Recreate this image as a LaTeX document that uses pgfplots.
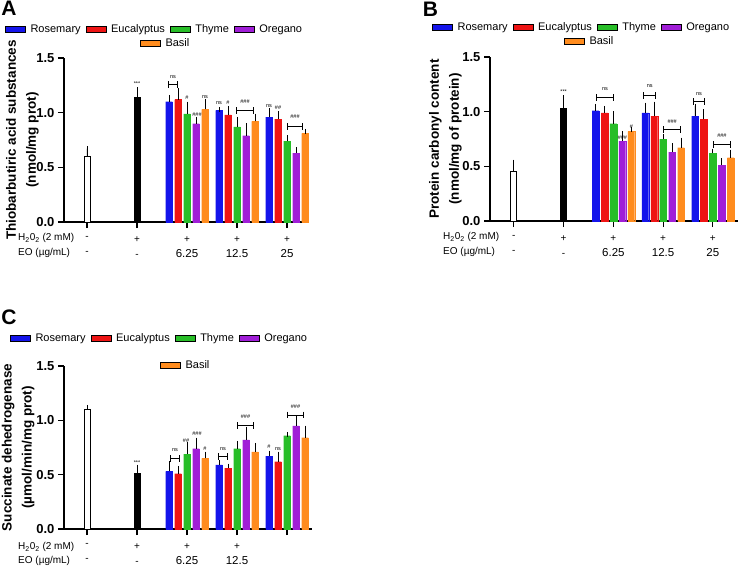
\documentclass[border=0pt]{standalone}
\usepackage{pgfplots}
\pgfplotsset{compat=1.18}
\usepackage{pgfplotstable}
\usepackage{fontspec}
\setmainfont{Liberation Sans}
\definecolor{cblue}{RGB}{20,20,235}
\definecolor{cred}{RGB}{238,20,20}
\definecolor{cgreen}{RGB}{40,190,40}
\definecolor{cpurple}{RGB}{160,30,215}
\definecolor{corange}{RGB}{255,140,30}
\newcommand{\numf}{\fontsize{11.5}{15}\selectfont}

% Panel A
\pgfplotstableread{
x y e
1.64 1.10 0.04
2.64 1.02 0.01
3.64 0.96 0.06
}\Ar
\pgfplotstableread{
x y e
1.82 1.12 0.08
2.82 0.98 0.06
3.82 0.94 0.05
}\Ae
\pgfplotstableread{
x y e
2 0.99 0.09
3 0.87 0.07
4 0.74 0.03
}\At
\pgfplotstableread{
x y e
2.18 0.90 0.04
3.18 0.79 0.09
4.18 0.63 0.03
}\Ao
\pgfplotstableread{
x y e
2.36 1.03 0.07
3.36 0.92 0.05
4.36 0.81 0.02
}\Ab
% Panel B
\pgfplotstableread{
x y e
1.64 1.01 0.04
2.64 0.99 0.07
3.64 0.96 0.09
}\Br
\pgfplotstableread{
x y e
1.82 0.99 0.04
2.82 0.96 0.11
3.82 0.93 0.07
}\Be
\pgfplotstableread{
x y e
2 0.89 0.09
3 0.75 0.02
4 0.62 0.02
}\Bt
\pgfplotstableread{
x y e
2.18 0.73 0.07
3.18 0.63 0.06
4.18 0.51 0.04
}\Bo
\pgfplotstableread{
x y e
2.36 0.82 0.02
3.36 0.67 0.07
4.36 0.58 0.05
}\Bb
% Panel C
\pgfplotstableread{
x y e
1.64 0.53 0.07
2.64 0.59 0.02
3.64 0.67 0.03
}\Cr
\pgfplotstableread{
x y e
1.82 0.51 0.05
2.82 0.56 0.02
3.82 0.62 0.07
}\Ce
\pgfplotstableread{
x y e
2 0.69 0.09
3 0.74 0.05
4 0.86 0.01
}\Ct
\pgfplotstableread{
x y e
2.18 0.74 0.08
3.18 0.82 0.10
4.18 0.95 0.07
}\Co
\pgfplotstableread{
x y e
2.36 0.65 0.04
3.36 0.71 0.06
4.36 0.84 0.09
}\Cb

\pgfplotsset{
  legcommon/.style={
    legend cell align=left, legend columns=4,
    legend style={draw=none, fill=none, inner sep=0pt, column sep=3pt,
      font=\fontsize{11}{13}\selectfont, anchor=west},
    legend image code/.code={\fill[##1] (0pt,-3pt) rectangle (20pt,3pt);}},
  panel/.style={legcommon, scale only axis, anchor=south west,
    axis lines=left, axis line style={-, line width=1.6pt},
    ymin=0, ymax=1.5, ytick={0,0.5,1,1.5}, xtick={0,1,2,3,4},
    tick align=outside, major tick length=6pt,
    tick style={line width=1.2pt, black},
    yticklabel style={font=\bfseries\fontsize{13}{15}\selectfont,
      /pgf/number format/.cd, fixed, fixed zerofill, precision=1, assume math mode=true},
    xticklabel style={align=center, font=\fontsize{10}{15}\selectfont, yshift=-5pt},
    every axis y label/.style={rotate=90, anchor=south, align=center,
      font=\bfseries\fontsize{13.5}{20}\selectfont},
    clip=false},
  panelleg/.style={legcommon, scale only axis, anchor=south west, hide axis,
    xmin=0, xmax=1, ymin=0, ymax=1},
  sbar/.style={ybar, bar width=6.8pt, bar shift=0pt, fill=#1, draw=#1, line width=0.1pt, forget plot,
    error bars/.cd, y dir=plus, y explicit,
    error bar style={black, line width=0.9pt},
    error mark options={black, line width=0.9pt, mark size=2.4pt}},
  cbar/.style={ybar, bar width=6pt, bar shift=0pt, fill=#1, draw=black, line width=0.8pt, forget plot,
    error bars/.cd, y dir=plus, y explicit,
    error bar style={black, line width=0.9pt},
    error mark options={black, line width=0.9pt, mark size=2.4pt}},
}
\tikzset{br/.style={|-|, line width=0.7pt, black},
  an/.style={font=\fontsize{5.5}{6}\selectfont, inner sep=0pt}}

\newcommand{\legfour}{%
  \addlegendimage{fill=cblue}\addlegendentry{Rosemary}
  \addlegendimage{fill=cred}\addlegendentry{Eucalyptus}
  \addlegendimage{fill=cgreen}\addlegendentry{Thyme}
  \addlegendimage{fill=cpurple}\addlegendentry{Oregano}}
\newcommand{\basil}[6]{%
  \begin{axis}[panelleg, at={(#1,#2)}, width=#3, height=#4, legend style={at={(#5,#6)}}]
  \addplot[draw=none, forget plot] coordinates {(0,0)};
  \addlegendimage{fill=corange}\addlegendentry{Basil}
  \end{axis}}
\newcommand{\bars}[5]{%
  \addplot[sbar=cblue] table[x=x,y=y,y error=e]{#1};
  \addplot[sbar=cred] table[x=x,y=y,y error=e]{#2};
  \addplot[sbar=cgreen] table[x=x,y=y,y error=e]{#3};
  \addplot[sbar=cpurple] table[x=x,y=y,y error=e]{#4};
  \addplot[sbar=corange] table[x=x,y=y,y error=e]{#5};}

\begin{document}
\begin{tikzpicture}
\path[use as bounding box] (0,0) rectangle (738pt,566pt);

% ---------------- A ----------------
\begin{axis}[panel, at={(64pt,344pt)}, width=241pt, height=164pt,
  xmin=-0.46, xmax=4.36,
  ylabel={Thiobarbutiric acid substances\\(nmol/mg prot)},
  ylabel style={at={(axis description cs:-0.09,0.5)}},
  xticklabels={{-\\-},{+\\-},{+\\\numf 6.25},{+\\\numf 12.5},{+\\\numf 25}},
  legend style={at={(-0.245,1.177)}}]
\legfour
\addplot[cbar=white] coordinates {(0,0.60) +- (0,0.07)};
\addplot[cbar=black] coordinates {(1,1.14) +- (0,0.07)};
\bars{\Ar}{\Ae}{\At}{\Ao}{\Ab}
\node[an] at (1,1.27) {***};
\draw[br] (1.62,1.26) -- (1.82,1.26); \node[an] at (1.72,1.33) {ns};
\node[an] at (2,1.14) {\#};
\node[an] at (2.2,0.98) {\#\#\#};
\node[an] at (2.36,1.14) {ns};
\node[an] at (2.64,1.09) {ns};
\node[an] at (2.82,1.09) {\#};
\draw[br] (2.98,1.02) -- (3.34,1.02); \node[an] at (3.16,1.10) {\#\#\#};
\node[an] at (3.64,1.06) {ns};
\node[an] at (3.82,1.05) {\#\#};
\draw[br] (4.0,0.875) -- (4.32,0.875); \node[an] at (4.16,0.96) {\#\#\#};
\end{axis}
\basil{64pt}{344pt}{241pt}{164pt}{0.315}{1.091}

% ---------------- B ----------------
\begin{axis}[panel, at={(490pt,345pt)}, width=248pt, height=164pt,
  xmin=-0.48, xmax=4.505,
  ylabel={Protein carbonyl content\\(nmol/mg of protein)},
  ylabel style={at={(axis description cs:-0.10,0.5)}},
  xticklabels={{-\\-},{+\\-},{+\\\numf 6.25},{+\\\numf 12.5},{+\\\numf 25}},
  legend style={at={(-0.234,1.183)}}]
\legfour
\addplot[cbar=white] coordinates {(0,0.45) +- (0,0.09)};
\addplot[cbar=black] coordinates {(1,1.03) +- (0,0.10)};
\bars{\Br}{\Be}{\Bt}{\Bo}{\Bb}
\node[an] at (1,1.18) {***};
\draw[br] (1.66,1.13) -- (2.0,1.13); \node[an] at (1.83,1.21) {ns};
\node[an] at (2.18,0.76) {\#\#\#};
\node[an] at (2.36,0.86) {\#};
\draw[br] (2.6,1.15) -- (2.86,1.15); \node[an] at (2.73,1.23) {ns};
\draw[br] (3.0,0.835) -- (3.36,0.835); \node[an] at (3.18,0.905) {\#\#\#};
\draw[br] (3.6,1.09) -- (3.84,1.09); \node[an] at (3.72,1.165) {ns};
\draw[br] (4.0,0.70) -- (4.36,0.70); \node[an] at (4.18,0.78) {\#\#\#};
\end{axis}
\basil{490pt}{345pt}{248pt}{164pt}{0.298}{1.098}

% ---------------- C ----------------
\begin{axis}[panel, at={(64pt,37pt)}, width=248pt, height=163pt,
  xmin=-0.46, xmax=4.5,
  ylabel={Succinate dehedrogenase\\(µmol/min/mg prot)},
  ylabel style={at={(axis description cs:-0.105,0.5)}},
  xticklabels={{-\\-},{+\\-},{+\\\numf 6.25},{+\\\numf 12.5},{}},
  legend style={at={(-0.218,1.172)}}]
\legfour
\addplot[cbar=white] coordinates {(0,1.10) +- (0,0.02)};
\addplot[cbar=black] coordinates {(1,0.51) +- (0,0.06)};
\bars{\Cr}{\Ce}{\Ct}{\Co}{\Cb}
\node[an] at (1,0.61) {***};
\draw[br] (1.66,0.65) -- (1.86,0.65); \node[an] at (1.76,0.73) {ns};
\node[an] at (1.98,0.81) {\#\#};
\node[an] at (2.2,0.875) {\#\#\#};
\node[an] at (2.36,0.74) {\#};
\draw[br] (2.62,0.67) -- (2.82,0.67); \node[an] at (2.72,0.74) {ns};
\draw[br] (3.0,0.95) -- (3.34,0.95); \node[an] at (3.17,1.03) {\#\#\#};
\node[an] at (3.64,0.76) {\#};
\node[an] at (3.82,0.74) {ns};
\draw[br] (4.0,1.05) -- (4.34,1.05); \node[an] at (4.17,1.125) {\#\#\#};
\end{axis}
\basil{64pt}{37pt}{248pt}{163pt}{0.387}{1.006}

% row labels and panel letters
\tikzset{rl/.style={anchor=west, font=\fontsize{10}{12}\selectfont, inner sep=0pt}}
\node[rl] at (18pt,328pt) {H\textsubscript{2}0\textsubscript{2} (2 mM)};
\node[rl] at (18pt,313pt) {EO (µg/mL)};
\node[rl] at (443pt,329pt) {H\textsubscript{2}0\textsubscript{2} (2 mM)};
\node[rl] at (443pt,314pt) {EO (µg/mL)};
\node[rl] at (18pt,19pt) {H\textsubscript{2}0\textsubscript{2} (2 mM)};
\node[rl] at (18pt,5pt) {EO (µg/mL)};
\tikzset{pl/.style={font=\bfseries\fontsize{21}{21}\selectfont, inner sep=0pt}}
\node[pl] at (9pt,557.5pt) {A};
\node[pl] at (430.5pt,556.5pt) {B};
\node[pl] at (9pt,249pt) {C};
\end{tikzpicture}
\end{document}
